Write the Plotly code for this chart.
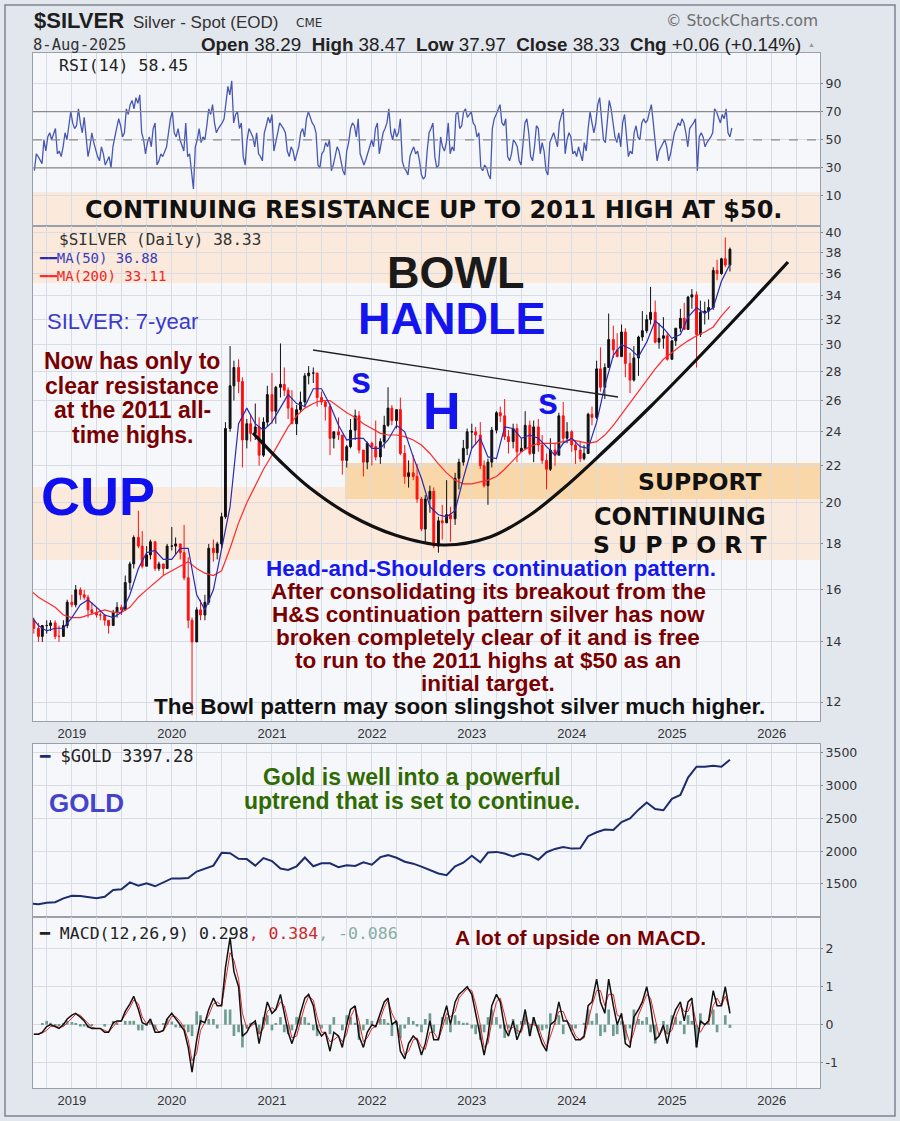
import math
import pandas as pd
import plotly.graph_objects as go

# ---------------- data ----------------
silver_high = [
    14.9, 14.7, 14.6, 14.8, 14.8, 14.8, 14.6, 14.8, 15.6,
    15.8, 16.2, 16.1, 16.0, 15.8, 15.5, 15.3, 15.1, 15.0, 14.8, 15.2, 15.5, 15.4, 16.6, 17.2, 18.4, 19.6, 18.6, 17.9, 18.2, 18.1, 17.2, 17.1, 18.0,
    18.8, 18.3, 18.0, 18.9, 17.4, 14.9, 15.3, 15.6, 15.8, 18.0, 18.2, 18.1, 19.5, 24.6, 29.9, 28.8, 28.9, 27.6, 24.8, 25.1, 25.8, 24.9, 24.9, 27.0,
    27.9, 27.0, 30.1, 28.3, 26.9, 26.7, 25.7, 26.6, 27.9, 28.4, 28.3, 27.9, 26.6, 26.0, 25.8, 24.0, 24.9, 23.8, 23.2, 24.8, 25.4, 25.3, 22.9, 23.4,
    23.4, 24.7, 23.6, 25.0, 26.9, 25.7, 25.4, 26.2, 23.2, 22.3, 22.6, 22.1, 20.3, 20.4, 20.9, 20.8, 19.3, 19.9, 21.2, 19.8, 21.6, 22.4, 23.5, 24.2,
    24.5, 24.3, 24.6, 22.3, 22.4, 24.3, 25.3, 25.6, 26.1, 24.1, 24.5, 24.5, 23.6, 25.3, 24.7, 24.7, 24.8, 23.8, 22.7, 23.6, 23.3, 25.2, 25.9, 24.6,
    24.1, 23.5, 23.4, 23.2, 25.2, 25.6, 28.8, 29.8, 28.6, 32.5, 31.5, 30.9, 31.6, 31.3, 29.4, 29.9, 30.7, 32.7, 32.4, 34.8, 33.6, 31.7, 32.2, 30.9,
    30.4, 31.3, 32.9, 33.4, 34.0, 34.6, 34.4, 33.6, 33.5, 33.7, 36.6, 37.3, 37.5, 39.5, 38.5,
]
silver_low = [
    14.3, 14.0, 14.0, 14.3, 14.4, 14.1, 14.0, 14.2, 14.5,
    15.3, 15.3, 15.6, 15.6, 14.9, 15.0, 14.9, 14.8, 14.6, 14.3, 14.6, 14.9, 15.0, 15.2, 16.0, 16.9, 17.8, 16.9, 17.0, 17.3, 16.8, 16.8, 16.6, 16.9,
    17.7, 17.5, 17.3, 16.4, 14.5, 11.6, 14.0, 14.8, 14.8, 15.4, 17.2, 17.3, 17.8, 19.2, 24.0, 26.0, 26.5, 21.9, 23.0, 23.4, 23.5, 22.0, 22.5, 24.3,
    24.5, 24.5, 26.2, 26.3, 24.8, 24.5, 23.8, 25.2, 25.6, 27.1, 27.2, 25.6, 25.7, 24.7, 22.6, 23.0, 23.5, 21.5, 21.9, 23.0, 23.5, 22.7, 21.4, 21.8,
    22.0, 22.3, 22.1, 23.0, 24.3, 24.4, 24.2, 22.6, 21.0, 20.8, 21.2, 20.0, 18.6, 18.1, 19.5, 17.8, 17.6, 18.2, 19.0, 18.1, 18.9, 20.7, 22.0, 22.6,
    23.0, 23.2, 21.8, 20.8, 19.9, 21.9, 23.9, 24.6, 23.5, 22.7, 23.0, 22.2, 22.8, 23.0, 22.6, 22.2, 22.8, 22.1, 20.7, 21.7, 22.0, 22.6, 23.3, 23.3,
    22.8, 22.1, 22.2, 22.3, 22.7, 24.4, 24.8, 26.6, 26.1, 28.3, 29.0, 29.1, 29.1, 27.6, 26.5, 27.3, 27.7, 30.3, 30.9, 31.6, 30.1, 29.7, 29.7, 28.8,
    28.9, 29.9, 31.0, 31.2, 31.2, 32.9, 28.3, 30.6, 31.6, 32.0, 32.8, 35.4, 35.9, 36.6, 36.2,
]
silver_close = [
    14.5, 14.2, 14.6, 14.6, 14.7, 14.2, 14.2, 14.6, 15.5,
    15.4, 16.0, 15.8, 15.7, 15.2, 15.1, 15.0, 15.0, 14.8, 14.6, 15.1, 15.3, 15.2, 16.3, 17.1, 18.3, 17.9, 17.0, 17.5, 18.1, 16.9, 17.1, 16.9, 17.9,
    17.9, 18.0, 17.6, 16.5, 14.8, 14.0, 15.2, 15.0, 15.5, 17.8, 17.6, 18.0, 19.3, 24.2, 27.0, 28.3, 27.3, 23.5, 24.5, 23.9, 24.3, 22.6, 24.6, 26.4,
    25.3, 26.9, 27.1, 26.7, 25.5, 24.5, 25.4, 25.9, 27.7, 27.9, 27.9, 26.2, 25.9, 25.6, 23.6, 24.0, 23.8, 22.3, 23.1, 24.1, 25.0, 22.9, 22.2, 23.3,
    23.1, 22.5, 23.4, 24.4, 25.5, 24.7, 25.4, 22.7, 21.4, 21.6, 21.4, 20.2, 18.7, 20.2, 20.6, 17.9, 19.1, 19.0, 19.4, 19.2, 21.3, 22.2, 23.0, 24.0,
    24.0, 23.8, 22.0, 20.9, 22.2, 24.1, 25.2, 25.0, 23.7, 23.4, 24.2, 22.8, 23.0, 24.4, 22.7, 24.3, 23.2, 22.3, 21.8, 22.9, 22.6, 25.0, 23.6, 24.0,
    23.2, 22.9, 22.4, 22.7, 25.1, 24.9, 28.2, 26.9, 28.3, 30.4, 29.6, 29.1, 31.0, 28.6, 27.4, 29.0, 30.6, 31.1, 32.0, 32.6, 30.2, 30.5, 30.7, 28.9,
    30.3, 31.3, 32.1, 31.2, 33.9, 34.1, 30.8, 32.6, 32.7, 33.0, 36.3, 36.0, 37.4, 36.8, 38.33,
]
silver_first_open = 14.8
silver_open = [silver_first_open] + silver_close[:-1]

ma50 = [
    15.0, 14.6, 14.4, 14.5, 14.5,
    14.9, 15.4, 15.6, 15.3, 15.0, 14.9, 15.1, 15.8, 16.9, 17.6, 17.7, 17.3,
    17.3, 17.8, 17.8, 15.8, 15.2, 16.0, 17.7, 19.8, 24.5, 25.5, 24.5, 24.1,
    24.6, 25.5, 26.4, 25.8, 25.6, 26.8, 26.8, 25.7, 24.4, 23.5, 23.6, 23.6,
    23.0, 23.0, 23.5, 24.4, 24.0, 22.5, 21.3, 19.8, 19.4, 19.3, 19.6, 21.3,
    23.0, 23.6, 22.5, 22.4, 24.3, 24.2, 23.6, 23.8, 23.6, 23.1, 22.6, 23.3,
    23.6, 23.1, 23.0, 24.6, 27.0, 29.2, 30.0, 29.7, 29.1, 30.2, 31.9, 31.3,
    30.5, 30.8, 32.2, 33.0, 32.5, 33.0, 35.3, 36.88,
]
ma200 = [
    16.0, 15.7, 15.5, 15.3, 15.0,
    14.9, 14.9, 15.0, 15.1, 15.2, 15.1, 15.1, 15.3, 15.7, 16.0, 16.3, 16.6,
    16.8, 17.0, 17.2, 16.9, 16.7, 16.6, 16.8, 17.8, 19.0, 20.0, 20.9, 21.8,
    22.6, 23.5, 24.3, 25.0, 25.5, 25.8, 26.0, 26.0, 25.6, 25.2, 24.9, 24.5,
    24.2, 23.9, 23.8, 23.8, 23.7, 23.5, 23.2, 22.7, 22.1, 21.6, 21.2, 21.0,
    21.0, 21.1, 21.2, 21.4, 21.8, 22.3, 22.8, 23.1, 23.3, 23.3, 23.3, 23.4,
    23.5, 23.4, 23.3, 23.4, 23.8, 24.4, 25.1, 25.9, 26.6, 27.4, 28.2, 28.9,
    29.4, 29.9, 30.3, 30.7, 31.0, 31.4, 32.3, 33.11,
]
gold = [
    1200, 1190, 1215, 1222, 1280,
    1320, 1315, 1295, 1283, 1305, 1410, 1420, 1525, 1475, 1510, 1465, 1520,
    1585, 1585, 1590, 1690, 1730, 1780, 1975, 1970, 1885, 1880, 1780, 1895,
    1850, 1735, 1715, 1770, 1905, 1770, 1815, 1815, 1755, 1785, 1775, 1830,
    1795, 1910, 1940, 1900, 1840, 1810, 1765, 1710, 1660, 1635, 1770, 1825,
    1930, 1830, 1980, 1990, 1965, 1920, 1965, 1940, 1870, 1985, 2035, 2065,
    2040, 2045, 2230, 2290, 2330, 2325, 2445, 2500, 2635, 2745, 2645, 2625,
    2800, 2860, 3125, 3290, 3290, 3305, 3290, 3397.28,
]
rsi14_weekly = [
    28, 40, 38, 35, 33, 50, 42, 52, 55, 50, 54, 58, 40, 42, 38, 45, 55, 50, 60, 70,
    62, 58, 60, 72, 62, 55, 66, 50, 38, 45, 55, 48, 42, 38, 35, 45, 40, 32, 35, 38, 30, 45,
    52, 58, 65, 60, 52, 55, 72, 68, 75, 78, 72, 80, 76, 82, 55, 50, 40, 48, 52, 45, 58,
    62, 32, 35, 40, 38, 42, 45, 55, 65,
    70, 55, 52, 58, 50, 45, 42, 62, 38, 40, 25, 15, 45, 50, 58, 48, 52, 50, 60, 72, 68, 75,
    62, 55, 58, 60, 62, 65, 78, 88, 82, 92, 62, 68, 70, 58, 62, 38, 32, 50, 58, 55, 52, 45,
    55, 40, 38, 35, 55, 60, 66, 62,
    68, 42, 50, 55, 62, 60, 58, 55, 42, 38, 45, 42, 35, 40, 45, 55, 58, 52, 65, 70, 66, 62,
    60, 55, 32, 30, 40, 42, 48, 45, 50, 28, 32, 40, 45, 42, 35, 28, 25, 42, 48, 58, 62, 60,
    52, 65, 40, 35, 32, 36, 40, 45, 50,
    45, 58, 62, 40, 48, 55, 58, 62, 72, 55, 50, 58, 52, 55, 65, 35, 30, 28, 25, 38, 42,
    45, 40, 42, 35, 25, 22, 24, 42, 55, 58, 62, 38, 30, 32, 52, 45, 42, 48, 62, 40, 45, 42,
    68, 70, 58, 60, 70, 72, 66, 68, 70,
    62, 60, 52, 55, 30, 28, 32, 30, 25, 22, 58, 65, 68, 72, 75, 62, 60, 65, 38, 35, 40,
    50, 48, 45, 35, 32, 45, 62, 65, 55, 38, 35, 45, 60, 58, 40, 48, 42, 28, 25, 48, 52, 55,
    50, 45, 62, 68, 72, 40, 50, 55, 52,
    40, 42, 38, 45, 40, 35, 48, 42, 58, 70, 62, 55, 62, 75, 80, 65, 50, 48, 62, 78, 72, 60,
    52, 48, 55, 45, 62, 68, 50, 38, 42, 40, 55, 60, 52, 50, 62, 65, 62, 64, 70, 75, 62,
    48, 35, 42, 45, 48, 50, 45, 35, 40,
    48, 55, 58, 62, 60, 65, 62, 55, 45, 58, 60, 62, 65, 28, 52, 55, 52, 45, 48, 50, 52, 55,
    72, 70, 65, 62, 68, 65, 72, 55, 52, 58.45,
]
macd_line = [
    -0.25, -0.25, -0.2, -0.05, 0.0, -0.05, -0.1, 0.0, 0.15,
    0.25, 0.3, 0.2, 0.1, -0.05, -0.1, -0.1, -0.1, -0.2, -0.2, 0.05, 0.1, 0.1, 0.35, 0.55, 0.75, 0.4, 0.05, 0.0, 0.15, -0.2, -0.2, -0.15, 0.15,
    0.3, 0.15, 0.0, -0.15, -0.6, -1.25, -0.4, 0.1, 0.05, 0.4, 0.7, 0.5, 0.5, 1.5, 2.3, 1.4, 1.0, -0.3, -0.2, 0.0, 0.1, -0.5, 0.1, 0.6,
    0.3, 0.4, 0.8, 0.3, -0.2, -0.5, -0.1, 0.3, 0.7, 0.8, 0.5, -0.1, -0.3, -0.2, -0.7, -0.2, -0.3, -0.6, 0.0, 0.4, 0.5, -0.3, -0.6, -0.2,
    0.0, -0.05, 0.3, 0.6, 0.7, 0.0, 0.1, -0.7, -0.9, -0.5, -0.3, -0.4, -0.8, -0.5, 0.1, -0.4, -0.4, 0.1, 0.5, 0.0, 0.6, 0.8, 0.9, 1.0,
    0.8, 0.3, -0.4, -0.8, -0.3, 0.5, 0.8, 0.6, -0.1, -0.3, 0.1, -0.4, -0.1, 0.4, -0.3, 0.2, -0.2, -0.5, -0.7, 0.0, 0.1, 0.6, 0.1, 0.1,
    -0.2, -0.4, -0.4, -0.3, 0.5, 0.6, 1.2, 0.6, 0.3, 1.2, 0.5, 0.0, 0.3, -0.5, -0.6, 0.2, 0.4, 0.6, 1.0, 0.5, -0.4, -0.3, 0.0, -0.5,
    0.1, 0.4, 0.6, 0.1, 0.6, 0.7, -0.6, 0.1, 0.0, 0.1, 0.9, 0.5, 0.5, 1.0, 0.298,
]
macd_signal = [
    -0.25, -0.25, -0.22, -0.15, -0.05, -0.03, -0.07, -0.05, 0.05,
    0.18, 0.27, 0.25, 0.15, 0.03, -0.07, -0.1, -0.1, -0.15, -0.2, -0.05, 0.07, 0.1, 0.25, 0.45, 0.65, 0.55, 0.2, 0.03, 0.08, -0.05, -0.2, -0.17, 0.0,
    0.22, 0.22, 0.08, -0.08, -0.4, -0.95, -0.75, -0.15, 0.05, 0.25, 0.55, 0.6, 0.5, 1.1, 1.9, 1.7, 1.2, 0.3, -0.1, -0.05, 0.05, -0.25, -0.1, 0.35,
    0.45, 0.38, 0.6, 0.5, 0.05, -0.35, -0.3, 0.1, 0.5, 0.75, 0.65, 0.2, -0.2, -0.2, -0.45, -0.4, -0.3, -0.45, -0.25, 0.2, 0.45, 0.1, -0.45, -0.35,
    -0.1, -0.05, 0.15, 0.45, 0.65, 0.3, 0.05, -0.35, -0.8, -0.7, -0.4, -0.35, -0.6, -0.65, -0.2, -0.2, -0.4, -0.1, 0.3, 0.2, 0.35, 0.7, 0.85, 0.95,
    0.9, 0.55, 0.0, -0.6, -0.5, 0.1, 0.6, 0.7, 0.25, -0.2, -0.05, -0.15, -0.2, 0.15, 0.0, 0.0, -0.05, -0.35, -0.6, -0.3, 0.05, 0.35, 0.35, 0.1,
    -0.05, -0.3, -0.4, -0.35, 0.1, 0.5, 0.9, 0.9, 0.5, 0.8, 0.8, 0.25, 0.2, -0.1, -0.5, -0.2, 0.25, 0.5, 0.8, 0.7, 0.1, -0.3, -0.1, -0.25,
    -0.15, 0.2, 0.5, 0.35, 0.35, 0.6, 0.0, -0.2, 0.0, 0.05, 0.5, 0.7, 0.5, 0.75, 0.384,
]
macd_hist = [m - s for m, s in zip(macd_line, macd_signal)]

bar_dates = pd.date_range("2018-08-15", periods=len(silver_close), freq="SMS")     # half-monthly bars
month_dates = pd.date_range("2018-08-01", periods=len(gold), freq="MS")            # monthly points
week_dates = pd.date_range("2018-08-17", periods=len(rsi14_weekly), freq="W-FRI")   # weekly points

year_labels = ["2019", "2020", "2021", "2022", "2023", "2024", "2025", "2026"]
year_ticks = [f"{y}-01-01" for y in year_labels]
silver_ticks = [12, 14, 16, 18, 20, 22, 24, 26, 28, 30, 32, 34, 36, 38, 40]
rsi_ticks = [10, 30, 50, 70, 90]
gold_ticks = [1500, 2000, 2500, 3000, 3500]
macd_ticks = [-1, 0, 1, 2]

# ---------------- layout geometry (pixels) ----------------
W, H = 900, 1121
L, R, T, B = 33, 820, 53, 1088


def px(x):
    return (x - L) / (R - L)


def py(y):
    return (B - y) / (B - T)


def dom(top, bottom):
    return [py(bottom), py(top)]


X_RANGE = ["2018-08-12", "2026-06-26"]
GRID = "#d8dce4"
AXLINE = "#9aa0aa"
PLOT_BG = "#f6f7fb"
TICKFONT = dict(family="DejaVu Sans", size=12.5, color="#333")
MONO = "DejaVu Sans Mono"

fig = go.Figure()

# RSI
fig.add_trace(go.Scatter(x=week_dates, y=rsi14_weekly, mode="lines", line=dict(color="#4858b2", width=1.3),
                         xaxis="x", yaxis="y", hoverinfo="skip"))
# Silver candles + MAs
fig.add_trace(go.Candlestick(x=bar_dates, open=silver_open, high=silver_high, low=silver_low, close=silver_close,
                             xaxis="x2", yaxis="y2", whiskerwidth=0,
                             increasing=dict(line=dict(color="#111111", width=1), fillcolor="#111111"),
                             decreasing=dict(line=dict(color="#ff1010", width=1), fillcolor="#ff1010")))
fig.add_trace(go.Scatter(x=month_dates, y=ma200, mode="lines", line=dict(color="#ff2a2a", width=1.2),
                         xaxis="x2", yaxis="y2"))
fig.add_trace(go.Scatter(x=month_dates, y=ma50, mode="lines", line=dict(color="#2a2ab0", width=1.2),
                         xaxis="x2", yaxis="y2"))
# Gold
fig.add_trace(go.Scatter(x=month_dates, y=gold, mode="lines", line=dict(color="#1c2c6c", width=2),
                         xaxis="x3", yaxis="y3"))
# MACD
fig.add_trace(go.Bar(x=bar_dates, y=macd_hist, marker=dict(color="#6f9c8f", line=dict(width=0)),
                     xaxis="x4", yaxis="y4"))
fig.add_trace(go.Scatter(x=bar_dates, y=macd_signal, mode="lines", line=dict(color="#e02a2a", width=1),
                         xaxis="x4", yaxis="y4"))
fig.add_trace(go.Scatter(x=bar_dates, y=macd_line, mode="lines", line=dict(color="#111111", width=1.5),
                         xaxis="x4", yaxis="y4"))


def xaxis_cfg(anchor, labels):
    return dict(anchor=anchor, domain=[0, 1], type="date", range=X_RANGE,
                tickvals=year_ticks, ticktext=year_labels, showticklabels=labels,
                tickfont=dict(family="Liberation Sans", size=13, color="#333"),
                showgrid=True, gridcolor=GRID, gridwidth=1,
                minor=dict(dtick="M3", tick0="2019-01-01", showgrid=True, gridcolor=GRID, gridwidth=1),
                showline=True, linecolor=AXLINE, mirror=True, ticks="", zeroline=False,
                rangeslider=dict(visible=False), fixedrange=True)


def yaxis_cfg(anchor, domain, rng, ticks, typ="linear"):
    return dict(anchor=anchor, domain=domain, range=rng, type=typ, side="right",
                tickvals=ticks, ticktext=[str(t) for t in ticks], tickfont=TICKFONT,
                showgrid=True, gridcolor=GRID, showline=True, linecolor=AXLINE, mirror=True,
                ticks="outside", ticklen=2, tickcolor="#888", zeroline=False, fixedrange=True)


fig.update_layout(
    width=W, height=H, margin=dict(l=L, r=W - R, t=T, b=H - B),
    paper_bgcolor="#e2e6ed", plot_bgcolor=PLOT_BG, showlegend=False,
    font=dict(family="Liberation Sans", color="#222"),
    bargap=0.3,
    xaxis=xaxis_cfg("y", False),
    xaxis2=xaxis_cfg("y2", True),
    xaxis3=xaxis_cfg("y3", False),
    xaxis4=xaxis_cfg("y4", True),
    yaxis=yaxis_cfg("x", dom(53, 226), [-11.4, 111.8], rsi_ticks),
    yaxis2=yaxis_cfg("x2", dom(226, 721), [math.log10(11.43), math.log10(40.68)], silver_ticks, "log"),
    yaxis3=yaxis_cfg("x3", dom(744, 917), [996, 3637], gold_ticks),
    yaxis4=yaxis_cfg("x4", dom(917, 1088), [-1.67, 2.84], macd_ticks),
)

shapes = []
# outer frame
shapes.append(dict(type="rect", xref="paper", yref="paper", x0=px(5), x1=px(895), y0=py(1116), y1=py(5),
                   line=dict(color="#7d8592", width=1.5), fillcolor="rgba(0,0,0,0)", layer="below"))
# bands
LIGHT = "#fbeadb"
DARK = "#f9d7a8"
shapes.append(dict(type="rect", xref="paper", yref="paper", x0=px(33), x1=px(820), y0=py(283), y1=py(192),
                   line=dict(width=0), fillcolor=LIGHT, layer="below"))
shapes.append(dict(type="rect", xref="paper", yref="paper", x0=px(33), x1=px(820), y0=py(560), y1=py(487),
                   line=dict(width=0), fillcolor=LIGHT, layer="below"))
shapes.append(dict(type="rect", xref="paper", yref="paper", x0=px(345), x1=px(820), y0=py(499), y1=py(463),
                   line=dict(width=0), fillcolor=DARK, layer="below"))
# RSI reference lines
for lvl, dash in ((70, "solid"), (30, "solid"), (50, "dash")):
    shapes.append(dict(type="line", xref="x domain", yref="y", x0=0, x1=1, y0=lvl, y1=lvl,
                       line=dict(color="#8a8a8a", width=1.2, dash=dash)))
# neckline
shapes.append(dict(type="line", xref="paper", yref="paper", x0=px(313), y0=py(350), x1=px(618), y1=py(397),
                   line=dict(color="#222", width=1.3)))


def smooth_path(points):
    pts = [(px(x), py(y)) for x, y in points]
    d = f"M {pts[0][0]:.5f},{pts[0][1]:.5f}"
    for i in range(len(pts) - 1):
        p0 = pts[i - 1] if i > 0 else pts[i]
        p1, p2 = pts[i], pts[i + 1]
        p3 = pts[i + 2] if i + 2 < len(pts) else pts[i + 1]
        c1 = (p1[0] + (p2[0] - p0[0]) / 6, p1[1] + (p2[1] - p0[1]) / 6)
        c2 = (p2[0] - (p3[0] - p1[0]) / 6, p2[1] - (p3[1] - p1[1]) / 6)
        d += f" C {c1[0]:.5f},{c1[1]:.5f} {c2[0]:.5f},{c2[1]:.5f} {p2[0]:.5f},{p2[1]:.5f}"
    return d


bowl_pts = [(253, 433), (280, 461), (310, 488), (350, 515), (395, 535), (443, 545), (490, 537),
            (530, 515), (565, 487), (600, 455), (650, 407), (700, 356), (750, 303), (788, 262)]
shapes.append(dict(type="path", xref="paper", yref="paper", path=smooth_path(bowl_pts),
                   line=dict(color="#111", width=3.2)))
fig.update_layout(shapes=shapes)

ann = []


def text(t, x, y, size, color="#222", family="Liberation Sans", anchor="center", bold=False):
    if bold:
        t = f"<b>{t}</b>"
    ann.append(dict(text=t, x=px(x), y=py(y), xref="paper", yref="paper", xanchor=anchor, yanchor="middle",
                    showarrow=False, font=dict(size=size, color=color, family=family)))


NB = "\u00a0"
# header
text("$SILVER", 32, 21, 22, "#1e1e1e", bold=True, anchor="left")
text("Silver - Spot (EOD)", 131, 22, 17, "#333", anchor="left")
text("CME", 294, 23, 12, "#333", family="DejaVu Sans", anchor="left")
text("© StockCharts.com", 820, 21, 15.5, "#6f6f6f", family="DejaVu Sans", anchor="right")
text("8-Aug-2025", 31, 45, 15.5, "#333", family=MONO, anchor="left")
text(f"<b>Open</b> 38.29{NB}{NB}<b>High</b> 38.47{NB}{NB}<b>Low</b> 37.97{NB}{NB}<b>Close</b> 38.33{NB}{NB}"
     f"<b>Chg</b> +0.06 (+0.14%)", 803, 45, 18.8, "#222", anchor="right")
text("▲", 806, 44, 7, "#999", anchor="left")

# panel legends
text("RSI(14) 58.45", 57, 66, 16.5, "#222", family=MONO, anchor="left")
text("$SILVER (Daily) 38.33", 57, 240, 16, "#333", family=MONO, anchor="left")
text("<span style='color:#2a2ab0'>━━</span>MA(50) 36.88", 37, 258, 14, "#3c3cb8", family=MONO, anchor="left")
text("<span style='color:#ff2a2a'>━━</span>MA(200) 33.11", 37, 276, 14, "#f02424", family=MONO, anchor="left")
text("<span style='color:#1c2c6c'>━</span> $GOLD 3397.28", 37, 756, 17, "#222", family=MONO, anchor="left")
text("━ MACD(12,26,9) 0.298<span style='color:#cc2a2a'>, 0.384</span><span style='color:#86aea6'>, -0.086</span>",
     37, 933, 16.5, "#222", family=MONO, anchor="left")

# main panel commentary
text("CONTINUING RESISTANCE UP TO 2011 HIGH AT $50.", 433, 210, 24, "#111", family="DejaVu Sans", bold=True)
text("SILVER: 7-year", 45, 322, 22, "#3b3bcc", anchor="left")
text("BOWL", 455, 273, 45, "#1a1a1a", bold=True)
text("HANDLE", 452, 318, 45, "#1414ee", bold=True)
DRED = "#7a0000"
for i, line in enumerate(["Now has only to", "clear resistance", "at the 2011 all-", "time highs."]):
    text(line, 132, 361 + 24.5 * i, 23, DRED, bold=True)
text("CUP", 98, 496, 54, "#1010ee", bold=True)
text("s", 361, 380, 36, "#1414ee", bold=True)
text("H", 442, 411, 52, "#1414ee", bold=True)
text("s", 548, 402, 36, "#1414ee", bold=True)
text("SUPPORT", 700, 482, 23.5, "#111", family="DejaVu Sans", bold=True)
text("CONTINUING", 680, 517, 24, "#111", family="DejaVu Sans", bold=True)
text("S U P P O R T", 680, 545, 23.5, "#111", family="DejaVu Sans", bold=True)
text("Head-and-Shoulders continuation pattern.", 491, 568, 22.5, "#1616ee", bold=True)
for i, line in enumerate(["After consolidating its breakout from the", "H&amp;S continuation pattern silver has now",
                          "broken completely clear of it and is free", "to run to the 2011 highs at $50 as an",
                          "initial target."]):
    text(line, 488, 591 + 23 * i, 22.5, DRED, bold=True)
text("The Bowl pattern may soon slingshot silver much higher.", 459, 706.5, 22.5, "#111", bold=True)

# gold & macd commentary
text("Gold is well into a powerful", 412, 776.5, 23, "#2f6a00", bold=True)
text("uptrend that is set to continue.", 412, 801, 23, "#2f6a00", bold=True)
text("GOLD", 47, 803, 26, "#4343cc", bold=True, anchor="left")
text("A lot of upside on MACD.", 580, 937, 21, DRED, bold=True)

fig.update_layout(annotations=ann)
fig.write_html("out.html", config={"displayModeBar": False},
               post_script="document.body.style.margin='0px';document.body.style.overflow='hidden';")
